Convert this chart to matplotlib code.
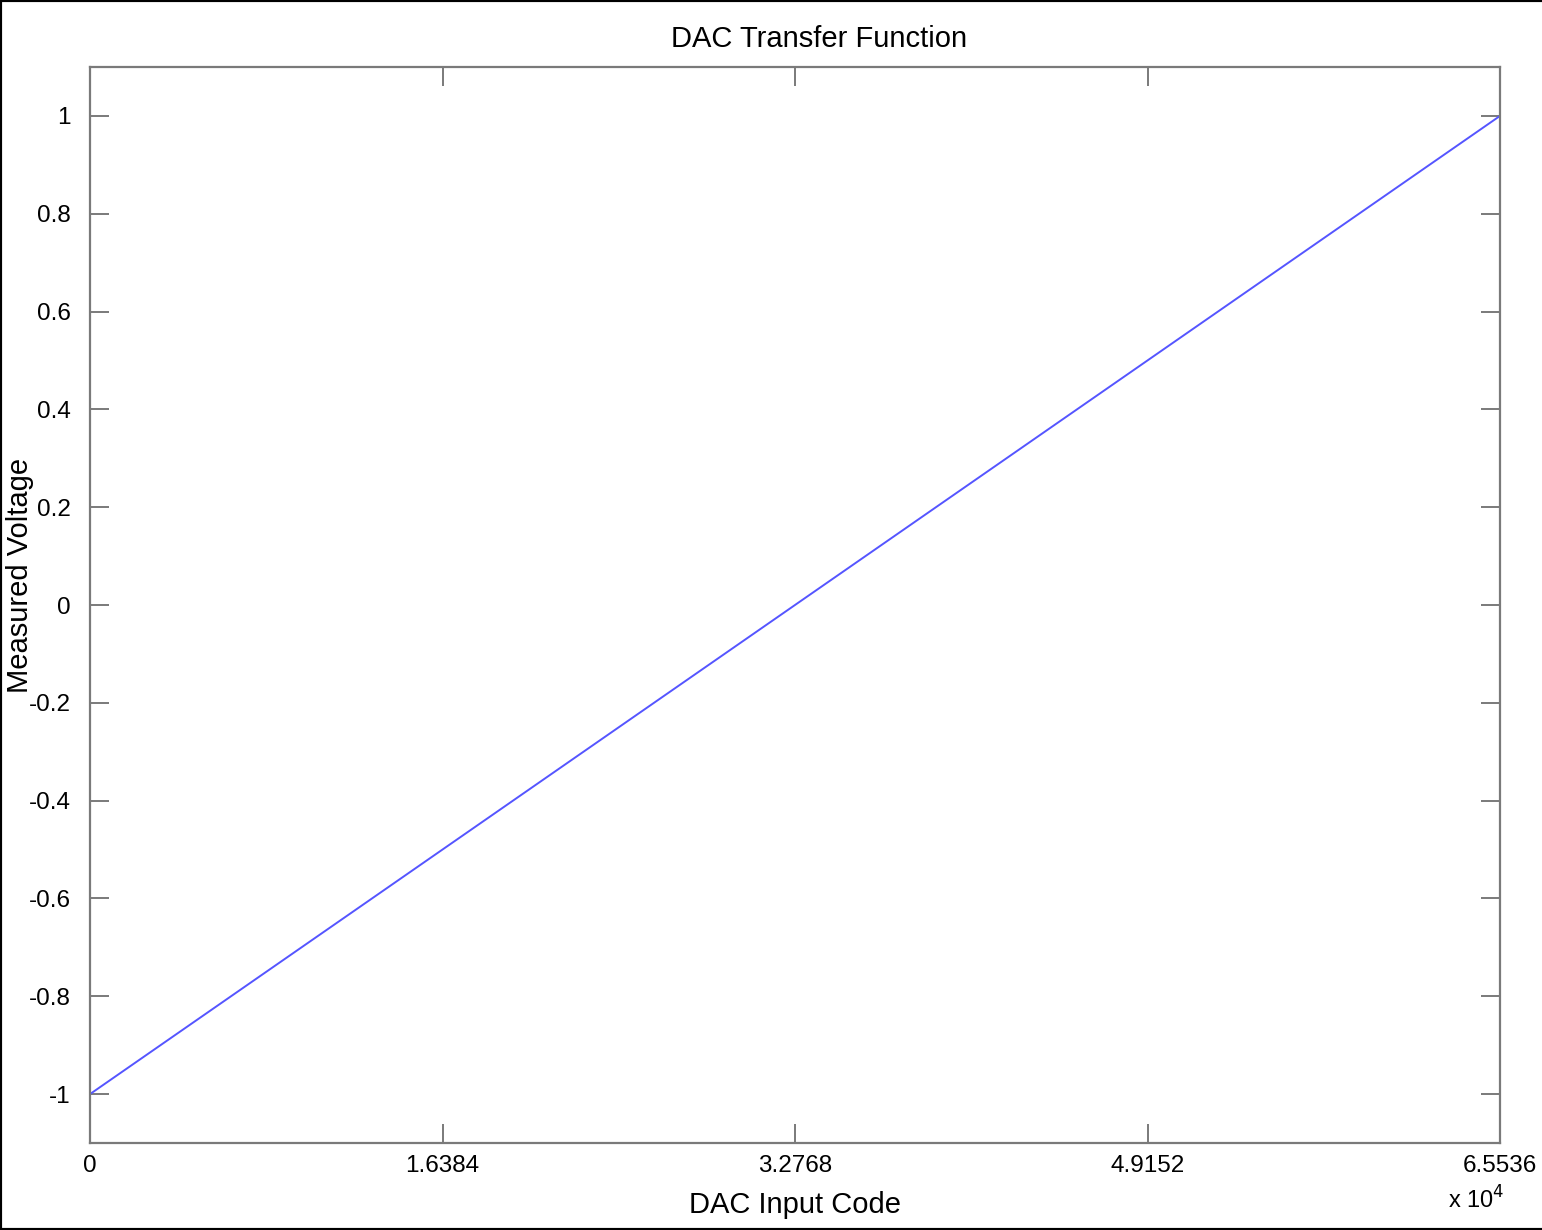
import matplotlib
matplotlib.use("Agg")
import matplotlib.pyplot as plt
from matplotlib.lines import Line2D

plt.rcParams['font.family'] = ['Liberation Sans', 'DejaVu Sans']

# Data
codes = [0, 65536]
voltage = [-1.0, 1.0]
xticks = [0, 16384, 32768, 49152, 65536]
xtick_labels = ['0', '1.6384', '3.2768', '4.9152', '6.5536']
yticks = [-1, -0.8, -0.6, -0.4, -0.2, 0, 0.2, 0.4, 0.6, 0.8, 1]
ytick_labels = ['-1', '-0.8', '-0.6', '-0.4', '-0.2', '0', '0.2', '0.4', '0.6', '0.8', '1']

W, H = 1542, 1230
fig = plt.figure(figsize=(W / 100, H / 100), dpi=100)
ax = fig.add_axes([90 / W, 1 - 1143 / H, 1410 / W, 1076 / H])

ax.plot(codes, voltage, color='#5555ff', lw=1.4)
ax.set_xlim(0, 65536)
ax.set_ylim(-1.1, 1.1)
ax.set_xticks(xticks)
ax.set_xticklabels(xtick_labels)
ax.set_yticks(yticks)
ax.set_yticklabels(ytick_labels)

grey = '#7a7a7a'
for s in ax.spines.values():
    s.set_color(grey)
    s.set_linewidth(1.6)
ax.tick_params(direction='in', length=14, width=1.4, color=grey,
               top=True, right=True, labelsize=17.5, labelcolor='black', pad=9)
ax.tick_params(axis='y', pad=14)

fig.text(819 / W, 1 - 39 / H, 'DAC Transfer Function', fontsize=21, ha='center', va='center')
ax.set_xlabel('DAC Input Code', fontsize=21, labelpad=10)
fig.text(20 / W, 1 - 575 / H, 'Measured Voltage', fontsize=21, rotation=90,
         ha='center', va='center')

fig.text(1476 / W, 1 - 1200 / H, r'x 10$^{4}$', fontsize=17, ha='center', va='center')

# figure frame (top, left, bottom)
fig.add_artist(Line2D([0, 0], [0, 1], transform=fig.transFigure, color='black', lw=3))
fig.add_artist(Line2D([0, 1], [1, 1], transform=fig.transFigure, color='black', lw=3))
fig.add_artist(Line2D([0, 1], [0, 0], transform=fig.transFigure, color='black', lw=3))

fig.savefig('out.png', dpi=100)
